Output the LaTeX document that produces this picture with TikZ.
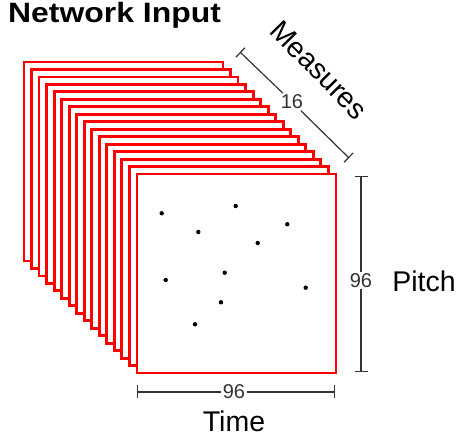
\documentclass[tikz,border=0pt]{standalone}
\usepackage{fontspec}
\setmainfont{Liberation Sans}
\usetikzlibrary{arrows.meta}
\definecolor{dimgray}{HTML}{333333}
\tikzset{
  frame/.style={draw=red, fill=white, line width=2.8pt, minimum size=199pt, inner sep=0pt, outer sep=0pt},
  note/.style={circle, fill=black, inner sep=0pt, minimum size=4.4pt},
  dimline/.style={draw=dimgray, line width=1.2pt},
  dimend/.style={dimline, -{Bar[width=13pt,line width=1.2pt]}},
  dimnum/.style={fill=white, text=dimgray, font=\fontsize{20}{22}\selectfont, inner sep=1.5pt},
  label/.style={font=\fontsize{28.5}{30}\selectfont, inner sep=0pt},
}
\begin{document}
\begin{tikzpicture}[x=1pt,y=-1pt]
\useasboundingbox (0,0) rectangle (459,438);
% stack of frames, back to front
\foreach \i in {0,...,15}{
  \node[frame] (s\i) at ({123.5+7.53*\i},{161.5+7.47*\i}) {};
}
% notes on the front frame
\foreach \n/\x/\y in {a/161.7/213.3, b/235.7/206, c/198.3/232, d/287.3/224.3, e/257.7/243, f/165.7/280, g/224.7/272.7, h/305.7/287.7, i/221/302.3, j/195/324.3}{
  \node[note] (n\n) at (\x,\y) {};
}
% title
\node[anchor=base west, inner sep=0pt, font=\bfseries\fontsize{28}{30}\selectfont] (title) at (8,23) {\scalebox{1.14}[1]{Network Input}};
% Measures dimension
\coordinate (m0) at (240,52);
\coordinate (m1) at (349,158);
\node[dimnum] (m16) at (292,102) {16};
\draw[dimend] (m16) -- (m0);
\draw[dimend] (m16) -- (m1);
\node[label, rotate=-45.5] (measures) at (319,70) {Measures};
% Pitch dimension
\coordinate (p0) at (361,176);
\coordinate (p1) at (361,372);
\node[dimnum] (p96) at (361,280.5) {96};
\draw[dimend] (p96) -- (p0);
\draw[dimend] (p96) -- (p1);
\node[label] (pitch) at (424,281) {Pitch};
% Time dimension
\coordinate (t0) at (137,392);
\coordinate (t1) at (335,392);
\node[dimnum] (t96) at (234,392) {96};
\draw[dimend] (t96) -- (t0);
\draw[dimend] (t96) -- (t1);
\node[label] (time) at (234,421) {Time};
\end{tikzpicture}
\end{document}
